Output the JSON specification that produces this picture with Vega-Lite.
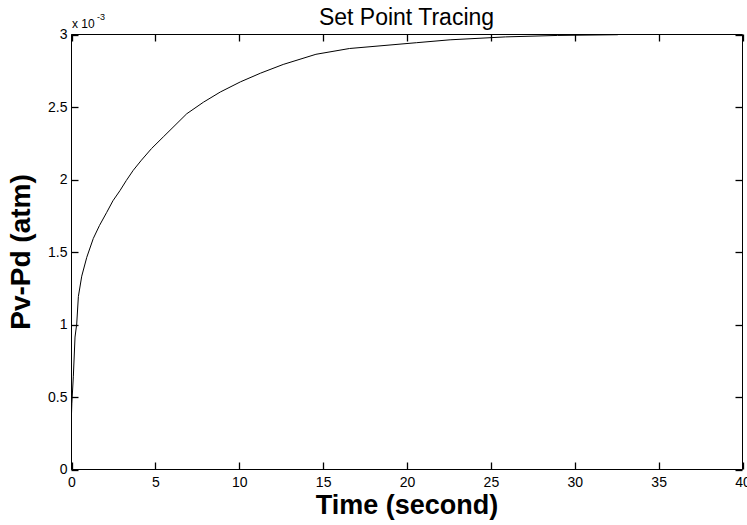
{
  "$schema": "https://vega.github.io/schema/vega-lite/v6.json",
  "width": 671,
  "height": 435,
  "autosize": {"type": "none"},
  "padding": {"left": 71, "top": 34, "right": 5, "bottom": 56},
  "background": "white",
  "config": {
    "font": "Liberation Sans",
    "view": {"stroke": "black", "strokeWidth": 1},
    "axis": {
      "grid": false,
      "domainColor": "black",
      "tickColor": "black",
      "tickWidth": 1.3,
      "tickSize": -7,
      "tickOffset": 0.5,
      "labelColor": "black",
      "titleColor": "black",
      "labelFont": "Liberation Sans",
      "labelFontSize": 14,
      "labelFlush": false,
      "labelOverlap": false
    }
  },
  "title": {
    "text": "Set Point Tracing",
    "font": "Liberation Sans",
    "fontSize": 23,
    "fontWeight": "normal",
    "color": "black",
    "offset": -17
  },
  "data": {
    "values": [
      {"time": 0, "pressure": 0.00028},
      {"time": 0.05, "pressure": 0.00045},
      {"time": 0.14, "pressure": 0.00064},
      {"time": 0.24, "pressure": 0.00091},
      {"time": 0.34, "pressure": 0.00100},
      {"time": 0.44, "pressure": 0.00119},
      {"time": 0.64, "pressure": 0.00133},
      {"time": 0.94, "pressure": 0.00146},
      {"time": 1.33, "pressure": 0.00159},
      {"time": 1.7, "pressure": 0.00168},
      {"time": 2.13, "pressure": 0.00177},
      {"time": 2.5, "pressure": 0.00185},
      {"time": 2.92, "pressure": 0.00192},
      {"time": 3.3, "pressure": 0.00199},
      {"time": 3.71, "pressure": 0.00206},
      {"time": 4.2, "pressure": 0.00213},
      {"time": 4.8, "pressure": 0.00221},
      {"time": 5.5, "pressure": 0.00229},
      {"time": 6.2, "pressure": 0.00237},
      {"time": 6.9, "pressure": 0.00245},
      {"time": 7.9, "pressure": 0.00253},
      {"time": 8.9, "pressure": 0.00260},
      {"time": 10.1, "pressure": 0.00267},
      {"time": 11.3, "pressure": 0.00273},
      {"time": 12.65, "pressure": 0.00279},
      {"time": 14.6, "pressure": 0.00286},
      {"time": 16.6, "pressure": 0.00290},
      {"time": 18.6, "pressure": 0.00292},
      {"time": 20.6, "pressure": 0.00294},
      {"time": 22.6, "pressure": 0.00296},
      {"time": 25.9, "pressure": 0.00298},
      {"time": 29, "pressure": 0.00299},
      {"time": 32.6, "pressure": 0.002995}
    ]
  },
  "layer": [
    {
      "mark": {"type": "line", "color": "black", "strokeWidth": 1, "clip": true},
      "encoding": {
        "x": {
          "field": "time",
          "type": "quantitative",
          "scale": {"domain": [0, 40], "nice": false, "zero": false},
          "axis": {
            "orient": "bottom",
            "values": [0, 5, 10, 15, 20, 25, 30, 35, 40],
            "title": "Time (second)",
            "titleFont": "Liberation Sans",
            "titleFontSize": 27,
            "titleFontWeight": "bold",
            "labelPadding": 13,
            "titlePadding": 3
          }
        },
        "y": {
          "field": "pressure",
          "type": "quantitative",
          "scale": {"domain": [0, 0.003], "nice": false},
          "axis": {
            "orient": "left",
            "values": [0, 0.0005, 0.001, 0.0015, 0.002, 0.0025, 0.003],
            "labelExpr": "format(datum.value * 1000, '~g')",
            "title": "Pv-Pd (atm)",
            "titleFont": "Liberation Sans",
            "titleFontSize": 28,
            "titleFontWeight": "bold",
            "labelPadding": 11,
            "titlePadding": 12
          }
        }
      }
    },
    {
      "mark": {"type": "line", "opacity": 0},
      "encoding": {
        "x": {
          "field": "time",
          "type": "quantitative",
          "axis": {
            "orient": "top",
            "values": [0, 5, 10, 15, 20, 25, 30, 35, 40],
            "labels": false,
            "domain": false,
            "title": null
          }
        },
        "y": {
          "field": "pressure",
          "type": "quantitative",
          "axis": {
            "orient": "right",
            "values": [0, 0.0005, 0.001, 0.0015, 0.002, 0.0025, 0.003],
            "labels": false,
            "domain": false,
            "title": null
          }
        }
      }
    },
    {
      "data": {"values": [{"time": 0, "pressure": 0.003, "label": "x 10"}]},
      "mark": {"type": "text", "align": "left", "baseline": "alphabetic", "fontSize": 12, "color": "black", "dx": 1, "dy": -6},
      "encoding": {
        "x": {"field": "time", "type": "quantitative", "axis": null},
        "y": {"field": "pressure", "type": "quantitative", "axis": null},
        "text": {"field": "label"}
      }
    },
    {
      "data": {"values": [{"time": 0, "pressure": 0.003, "label": "-3"}]},
      "mark": {"type": "text", "align": "left", "baseline": "alphabetic", "fontSize": 9, "color": "black", "dx": 26, "dy": -14},
      "encoding": {
        "x": {"field": "time", "type": "quantitative", "axis": null},
        "y": {"field": "pressure", "type": "quantitative", "axis": null},
        "text": {"field": "label"}
      }
    }
  ],
  "resolve": {"axis": {"x": "independent", "y": "independent"}}
}
